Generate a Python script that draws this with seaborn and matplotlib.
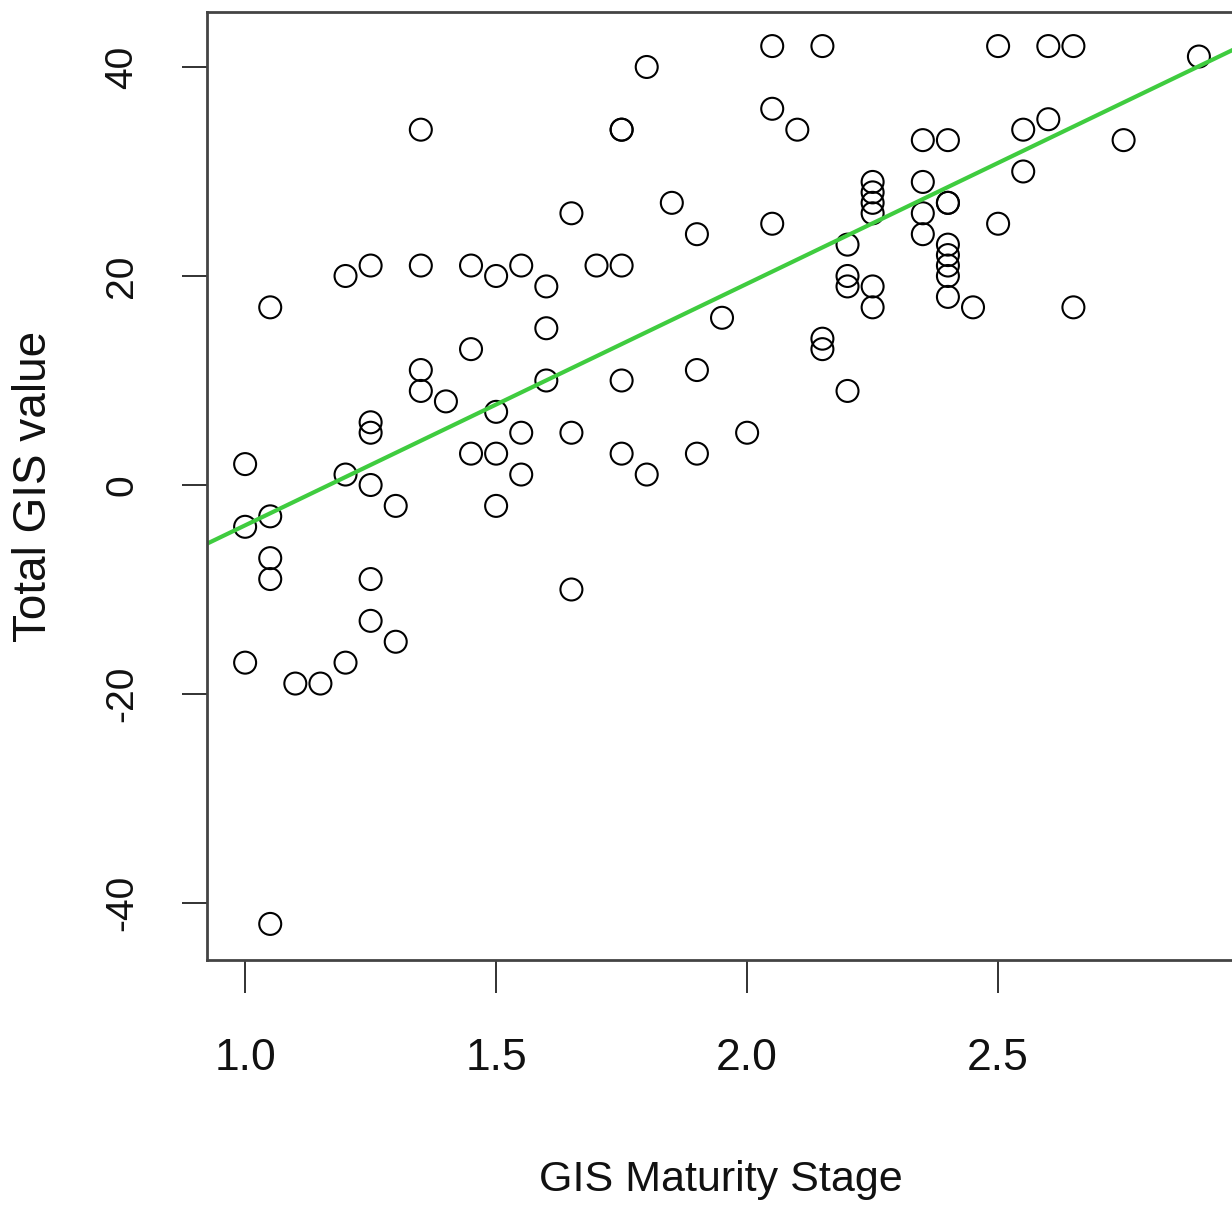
import numpy as np
import pandas as pd
import matplotlib
matplotlib.use('Agg')
import matplotlib.pyplot as plt
import seaborn as sns

# GIS maturity stage (x) and total GIS value (y)
stage = [1.0, 1.0, 1.0,
         1.05, 1.05, 1.05, 1.05, 1.05,
         1.1, 1.15,
         1.2, 1.2, 1.2,
         1.25, 1.25, 1.25, 1.25, 1.25, 1.25,
         1.3, 1.3,
         1.35, 1.35, 1.35, 1.35,
         1.4,
         1.45, 1.45, 1.45,
         1.5, 1.5, 1.5, 1.5,
         1.55, 1.55, 1.55,
         1.6, 1.6, 1.6,
         1.65, 1.65, 1.65,
         1.7,
         1.75, 1.75, 1.75, 1.75, 1.75,
         1.8, 1.8,
         1.85,
         1.9, 1.9, 1.9,
         1.95, 2.0,
         2.05, 2.05, 2.05,
         2.1,
         2.15, 2.15, 2.15,
         2.2, 2.2, 2.2, 2.2,
         2.25, 2.25, 2.25, 2.25, 2.25, 2.25,
         2.35, 2.35, 2.35, 2.35,
         2.4, 2.4, 2.4, 2.4, 2.4, 2.4, 2.4, 2.4,
         2.45,
         2.5, 2.5,
         2.55, 2.55,
         2.6, 2.6,
         2.65, 2.65,
         2.75, 2.9]
gis_value = [2, -4, -17,
             17, -3, -7, -9, -42,
             -19, -19,
             20, 1, -17,
             21, 6, 5, 0, -9, -13,
             -2, -15,
             34, 21, 11, 9,
             8,
             21, 13, 3,
             20, 7, 3, -2,
             21, 5, 1,
             19, 15, 10,
             26, 5, -10,
             21,
             34, 34, 21, 10, 3,
             40, 1,
             27,
             24, 11, 3,
             16, 5,
             42, 36, 25,
             34,
             42, 14, 13,
             23, 20, 19, 9,
             29, 28, 27, 26, 19, 17,
             33, 29, 26, 24,
             33, 27, 27, 23, 22, 21, 20, 18,
             17,
             42, 25,
             34, 30,
             42, 35,
             42, 17,
             33, 41]

x_ticks = [1.0, 1.5, 2.0, 2.5]
x_tick_labels = ['1.0', '1.5', '2.0', '2.5']
y_ticks = [-40, -20, 0, 20, 40]
y_tick_labels = ['-40', '-20', '0', '20', '40']

df = pd.DataFrame({'stage': stage, 'value': gis_value})

sns.set_style('white')
plt.rcParams['font.family'] = ['Liberation Sans', 'DejaVu Sans']

fig = plt.figure(figsize=(12.32, 12.13), dpi=100)
ax = fig.add_axes([0.168, 0.2086, 0.852, 0.7815])
ax.set_xlim(0.924, 3.015)
ax.set_ylim(-45.45, 45.26)

sns.regplot(data=df, x='stage', y='value', ax=ax, ci=None, truncate=False,
            scatter_kws=dict(s=250, facecolors='none', edgecolors='black',
                             linewidths=1.5, alpha=1),
            line_kws=dict(color='#3fcc3f', lw=3))

ax.set_xlim(0.924, 3.015)
ax.set_ylim(-45.45, 45.26)

ax.set_xticks(x_ticks)
ax.set_xticklabels(x_tick_labels, fontsize=32)
ax.set_yticks(y_ticks)
ax.set_yticklabels(y_tick_labels, fontsize=28, rotation=90, va='center')

ax.tick_params(axis='x', direction='out', length=24, width=1.3, pad=32,
               color='#222222', labelcolor='#111111', bottom=True)
ax.tick_params(axis='y', direction='out', length=18, width=1.3, pad=30,
               color='#222222', labelcolor='#111111', left=True)

for side in ['top', 'left', 'bottom']:
    ax.spines[side].set_color('#444444')
    ax.spines[side].set_linewidth(2)
ax.spines['right'].set_visible(False)

ax.set_xlabel('GIS Maturity Stage', fontsize=31, color='#111111')
ax.xaxis.set_label_coords(0.49, -0.211)
ax.set_ylabel('Total GIS value', fontsize=33, color='#111111')
ax.yaxis.set_label_coords(-0.144, 0.5)

fig.savefig('out.png', dpi=100, facecolor='white')
